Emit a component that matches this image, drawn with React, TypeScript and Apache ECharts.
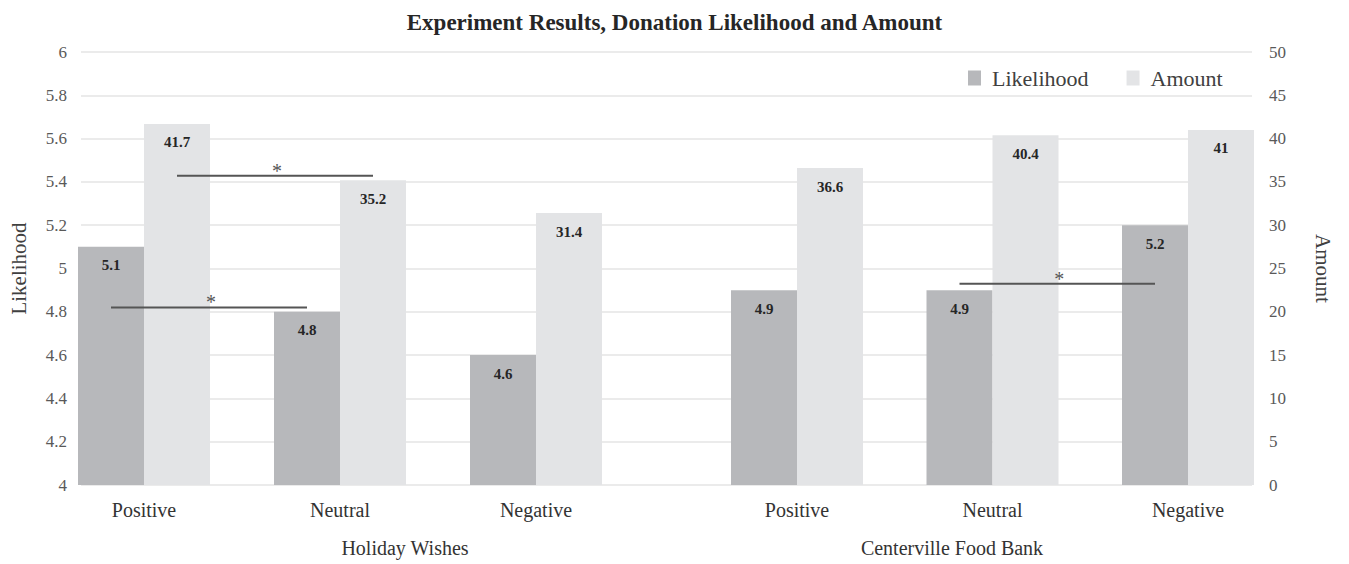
import React, { useEffect, useRef } from "react";
import * as echarts from "echarts";

const categories = ["Positive", "Neutral", "Negative"];
const groups = ["Holiday Wishes", "Centerville Food Bank"];
const likelihoodHW = [5.1, 4.8, 4.6];
const amountHW = [41.7, 35.2, 31.4];
const likelihoodFB = [4.9, 4.9, 5.2];
const amountFB = [36.6, 40.4, 41];
// significance markers: group index, from/to category, series, level
const sigLines = [
  { group: 0, from: "Positive", to: "Neutral", series: "Amount", level: 35.7 },
  { group: 0, from: "Positive", to: "Neutral", series: "Likelihood", level: 4.82 },
  { group: 1, from: "Neutral", to: "Negative", series: "Likelihood", level: 4.93 },
];

const FONT = "'Liberation Serif', 'DejaVu Serif', serif";
const BAR_W = 66;
const C_LIK = "#b7b8bb";
const C_AMT = "#e3e4e6";

export default function App() {
  const ref = useRef<HTMLDivElement>(null);
  useEffect(() => {
    document.body.style.margin = "0";
    const chart = echarts.init(ref.current!, null, { renderer: "svg" });
    const top = 52;
    const height = 433;
    const labelStyle = {
      show: true,
      position: "insideTop",
      distance: 11,
      fontFamily: FONT,
      fontWeight: "bold",
      fontSize: 15,
      color: "#262626",
    };
    const hiddenCat = (gridIndex: number) => ({
      type: "category",
      gridIndex,
      data: categories,
      boundaryGap: false,
      axisLine: { show: false },
      axisTick: { show: false },
      splitLine: { show: false },
      axisLabel: { fontFamily: FONT, fontSize: 20, color: "#333", margin: 15 },
    });
    const hiddenY = (gridIndex: number, min: number, max: number) => ({
      type: "value",
      gridIndex,
      min,
      max,
      startValue: min,
      show: false,
      splitLine: { show: false },
    });
    const mkBar = (name: string, data: number[], x: number, y: number, color: string) => ({
      type: "bar",
      name,
      data,
      xAxisIndex: x,
      yAxisIndex: y,
      barWidth: BAR_W,
      barGap: "0%",
      clip: false,
      itemStyle: { color },
      label: labelStyle,
    });
    chart.setOption({
      animation: false,
      title: {
        text: "Experiment Results, Donation Likelihood and Amount",
        left: "center",
        top: 6,
        textStyle: { fontFamily: FONT, fontSize: 23, fontWeight: "bold", color: "#262626" },
      },
      legend: {
        left: 963,
        top: 62,
        itemWidth: 13,
        itemHeight: 15,
        itemGap: 38,
        icon: "rect",
        data: ["Likelihood", "Amount"],
        textStyle: { fontFamily: FONT, fontSize: 22, color: "#404040", padding: [0, 0, 0, 6] },
      },
      grid: [
        { left: 79, width: 1173, top, height },
        { left: 144, width: 392, top, height },
        { left: 797, width: 391, top, height },
      ],
      xAxis: [
        { type: "category", gridIndex: 0, data: [""], show: false },
        hiddenCat(1),
        hiddenCat(2),
      ],
      yAxis: [
        {
          type: "value",
          gridIndex: 0,
          min: 4,
          max: 6,
          interval: 0.2,
          position: "left",
          name: "Likelihood",
          nameLocation: "middle",
          nameRotate: 90,
          nameGap: 52,
          nameTextStyle: { fontFamily: FONT, fontSize: 21, color: "#404040" },
          axisLine: { show: false },
          axisTick: { show: false },
          axisLabel: { fontFamily: FONT, fontSize: 17, color: "#595959", margin: 14 },
          splitLine: { lineStyle: { color: "#e4e4e4", width: 1.5 } },
        },
        {
          type: "value",
          gridIndex: 0,
          min: 0,
          max: 50,
          interval: 5,
          position: "right",
          name: "Amount",
          nameLocation: "middle",
          nameRotate: -90,
          nameGap: 60,
          nameTextStyle: { fontFamily: FONT, fontSize: 21, color: "#404040" },
          axisLine: { show: false },
          axisTick: { show: false },
          axisLabel: { fontFamily: FONT, fontSize: 17, color: "#595959", margin: 17 },
          splitLine: { show: false },
        },
        hiddenY(1, 4, 6),
        hiddenY(1, 0, 50),
        hiddenY(2, 4, 6),
        hiddenY(2, 0, 50),
      ],
      series: [
        mkBar("Likelihood", likelihoodHW, 1, 2, C_LIK),
        mkBar("Amount", amountHW, 1, 3, C_AMT),
        mkBar("Likelihood", likelihoodFB, 2, 4, C_LIK),
        mkBar("Amount", amountFB, 2, 5, C_AMT),
      ],
    });

    const elements: any[] = [];
    sigLines.forEach((s) => {
      const xIdx = s.group + 1;
      const yIdx = s.group === 0 ? (s.series === "Likelihood" ? 2 : 3) : s.series === "Likelihood" ? 4 : 5;
      const off = s.series === "Likelihood" ? -BAR_W / 2 : BAR_W / 2;
      const p1 = chart.convertToPixel({ xAxisIndex: xIdx, yAxisIndex: yIdx } as any, [s.from, s.level]) as number[];
      const p2 = chart.convertToPixel({ xAxisIndex: xIdx, yAxisIndex: yIdx } as any, [s.to, s.level]) as number[];
      const x1 = p1[0] + off;
      const x2 = p2[0] + off;
      elements.push({
        type: "line",
        shape: { x1, y1: p1[1], x2, y2: p2[1] },
        style: { stroke: "#555", lineWidth: 2 },
        z: 10,
      });
      elements.push({
        type: "text",
        x: (x1 + x2) / 2 + 2,
        y: p1[1] - 5,
        style: {
          text: "*",
          fontFamily: FONT,
          fontSize: 20,
          fill: "#555",
          align: "center",
          verticalAlign: "middle",
        },
        z: 10,
      });
    });
    const groupX = [405, 952];
    groups.forEach((g, i) => {
      elements.push({
        type: "text",
        x: groupX[i],
        y: 548,
        style: {
          text: g,
          fontFamily: FONT,
          fontSize: 20,
          fill: "#333",
          align: "center",
          verticalAlign: "middle",
        },
      });
    });
    chart.setOption({ graphic: elements });
    return () => chart.dispose();
  }, []);
  return <div ref={ref} style={{ position: "absolute", left: 0, top: 0, width: 1349, height: 564 }} />;
}
